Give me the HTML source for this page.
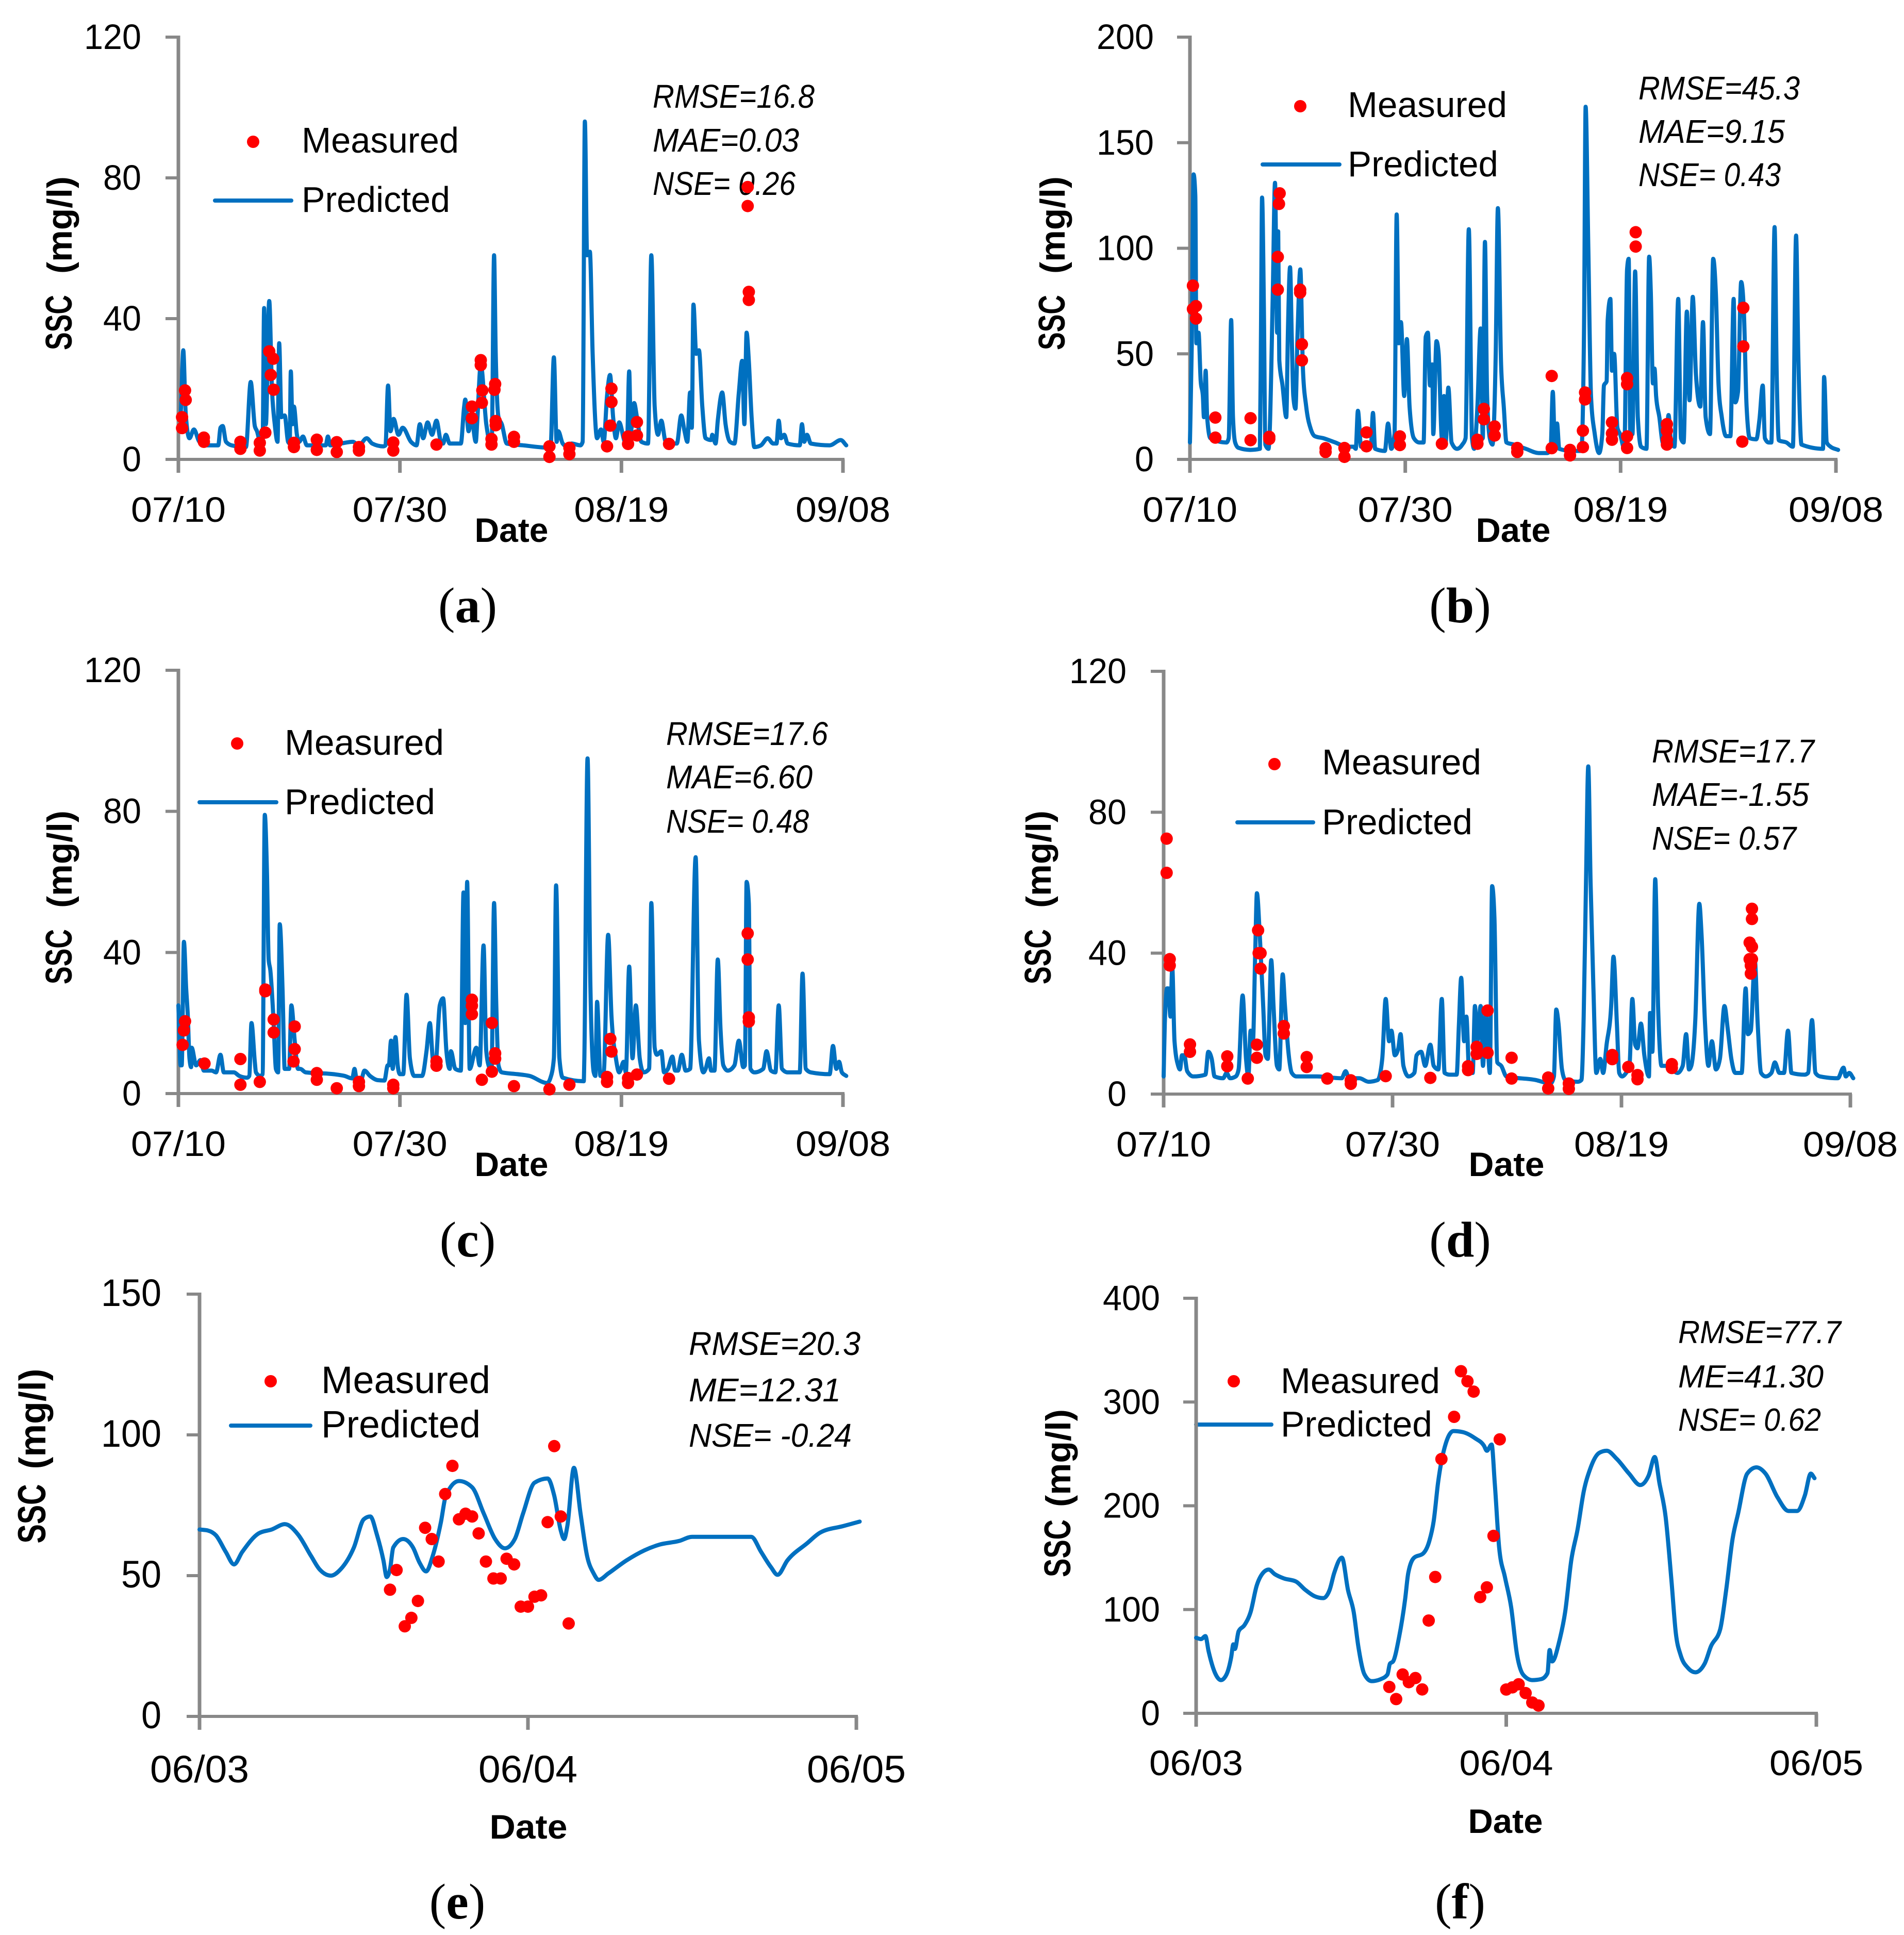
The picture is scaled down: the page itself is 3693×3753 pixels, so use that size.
<!DOCTYPE html>
<html lang="en">
<head>
<meta charset="utf-8">
<title>SSC measured vs predicted</title>
<style>
html,body{margin:0;padding:0;background:#fff}
svg{display:block}
text{font-family:"Liberation Sans",sans-serif;fill:#000}
.leg{font-size:70px}
.legb{font-size:74px}
.st{font-size:64px;font-style:italic}
.stf{font-size:62px;font-style:italic}
.ys{font-size:72px;font-weight:700}
.yu{font-size:68px;font-weight:700}
.ysb{font-size:76px;font-weight:700}
.yub{font-size:72px;font-weight:700}
.dt{font-size:66px;font-weight:700}
.pl{font-family:"Liberation Serif",serif;font-size:98px}
.pl tspan{font-weight:700}
</style>
</head>
<body>
<svg id="figure" xmlns="http://www.w3.org/2000/svg" width="3693" height="3753" viewBox="0 0 3693 3753">
<rect width="3693" height="3753" fill="#fff"/>

<g id="panel-a">
<g>
<text class="ys" transform="translate(139 625.5) rotate(-90)" text-anchor="middle" textLength="107" lengthAdjust="spacingAndGlyphs">SSC</text>
<text class="yu" transform="translate(139 436.5) rotate(-90)" text-anchor="middle" textLength="189" lengthAdjust="spacingAndGlyphs">(mg/l)</text>
</g>
<text class="dt" x="992" y="1051" text-anchor="middle" textLength="143" lengthAdjust="spacingAndGlyphs">Date</text>
<text class="pl" x="907" y="1207" text-anchor="middle">(<tspan>a</tspan>)</text>
<circle cx="491" cy="275" r="12" fill="#f00"/>
<text class="leg" x="585" y="296" textLength="305" lengthAdjust="spacingAndGlyphs">Measured</text>
<line x1="417" x2="565" y1="389" y2="389" stroke="#0070c0" stroke-width="8" stroke-linecap="round"/>
<text class="leg" x="585" y="411" textLength="288" lengthAdjust="spacingAndGlyphs">Predicted</text>
<text class="st" x="1266" y="209" textLength="314" lengthAdjust="spacingAndGlyphs">RMSE=16.8</text>
<text class="st" x="1266" y="294" textLength="284" lengthAdjust="spacingAndGlyphs">MAE=0.03</text>
<text class="st" x="1266" y="378" textLength="277" lengthAdjust="spacingAndGlyphs">NSE= 0.26</text>
</g>

<g id="panel-b">
<g>
<text class="ys" transform="translate(2065 625.5) rotate(-90)" text-anchor="middle" textLength="107" lengthAdjust="spacingAndGlyphs">SSC</text>
<text class="yu" transform="translate(2065 436.5) rotate(-90)" text-anchor="middle" textLength="189" lengthAdjust="spacingAndGlyphs">(mg/l)</text>
</g>
<text class="dt" x="2935" y="1051" text-anchor="middle" textLength="145" lengthAdjust="spacingAndGlyphs">Date</text>
<text class="pl" x="2832" y="1207" text-anchor="middle">(<tspan>b</tspan>)</text>
<circle cx="2522" cy="206" r="12" fill="#f00"/>
<text class="leg" x="2614" y="227" textLength="309" lengthAdjust="spacingAndGlyphs">Measured</text>
<line x1="2449" x2="2598" y1="319" y2="319" stroke="#0070c0" stroke-width="8" stroke-linecap="round"/>
<text class="leg" x="2614" y="342" textLength="292" lengthAdjust="spacingAndGlyphs">Predicted</text>
<text class="st" x="3178" y="193" textLength="313" lengthAdjust="spacingAndGlyphs">RMSE=45.3</text>
<text class="st" x="3178" y="277" textLength="284" lengthAdjust="spacingAndGlyphs">MAE=9.15</text>
<text class="st" x="3178" y="361" textLength="276" lengthAdjust="spacingAndGlyphs">NSE= 0.43</text>
</g>

<g id="panel-c">
<g>
<text class="ys" transform="translate(139 1855.5) rotate(-90)" text-anchor="middle" textLength="107" lengthAdjust="spacingAndGlyphs">SSC</text>
<text class="yu" transform="translate(139 1666.5) rotate(-90)" text-anchor="middle" textLength="189" lengthAdjust="spacingAndGlyphs">(mg/l)</text>
</g>
<text class="dt" x="992" y="2281" text-anchor="middle" textLength="143" lengthAdjust="spacingAndGlyphs">Date</text>
<text class="pl" x="907" y="2437" text-anchor="middle">(<tspan>c</tspan>)</text>
<circle cx="460" cy="1442" r="12" fill="#f00"/>
<text class="leg" x="552" y="1464" textLength="309" lengthAdjust="spacingAndGlyphs">Measured</text>
<line x1="387" x2="536" y1="1556" y2="1556" stroke="#0070c0" stroke-width="8" stroke-linecap="round"/>
<text class="leg" x="552" y="1579" textLength="292" lengthAdjust="spacingAndGlyphs">Predicted</text>
<text class="st" x="1292" y="1445" textLength="314" lengthAdjust="spacingAndGlyphs">RMSE=17.6</text>
<text class="st" x="1292" y="1529" textLength="284" lengthAdjust="spacingAndGlyphs">MAE=6.60</text>
<text class="st" x="1292" y="1615" textLength="277" lengthAdjust="spacingAndGlyphs">NSE= 0.48</text>
</g>

<g id="panel-d">
<g>
<text class="ys" transform="translate(2038 1855.5) rotate(-90)" text-anchor="middle" textLength="107" lengthAdjust="spacingAndGlyphs">SSC</text>
<text class="yu" transform="translate(2038 1666.5) rotate(-90)" text-anchor="middle" textLength="189" lengthAdjust="spacingAndGlyphs">(mg/l)</text>
</g>
<text class="dt" x="2922" y="2281" text-anchor="middle" textLength="147" lengthAdjust="spacingAndGlyphs">Date</text>
<text class="pl" x="2832" y="2437" text-anchor="middle">(<tspan>d</tspan>)</text>
<circle cx="2472" cy="1482" r="12" fill="#f00"/>
<text class="leg" x="2564" y="1502" textLength="309" lengthAdjust="spacingAndGlyphs">Measured</text>
<line x1="2400" x2="2547" y1="1595" y2="1595" stroke="#0070c0" stroke-width="8" stroke-linecap="round"/>
<text class="leg" x="2564" y="1618" textLength="292" lengthAdjust="spacingAndGlyphs">Predicted</text>
<text class="st" x="3204" y="1479" textLength="315" lengthAdjust="spacingAndGlyphs">RMSE=17.7</text>
<text class="st" x="3204" y="1563" textLength="305" lengthAdjust="spacingAndGlyphs">MAE=-1.55</text>
<text class="st" x="3204" y="1648" textLength="280" lengthAdjust="spacingAndGlyphs">NSE= 0.57</text>
</g>

<g id="panel-e">
<g>
<text class="ysb" transform="translate(88 2936) rotate(-90)" text-anchor="middle" textLength="115" lengthAdjust="spacingAndGlyphs">SSC</text>
<text class="yub" transform="translate(88 2752) rotate(-90)" text-anchor="middle" textLength="195" lengthAdjust="spacingAndGlyphs">(mg/l)</text>
</g>
<text class="dt" x="1025" y="3566" text-anchor="middle" textLength="151" lengthAdjust="spacingAndGlyphs">Date</text>
<text class="pl" x="887" y="3721" text-anchor="middle">(<tspan>e</tspan>)</text>
<circle cx="525" cy="2679" r="12" fill="#f00"/>
<text class="legb" x="623" y="2702" textLength="328" lengthAdjust="spacingAndGlyphs">Measured</text>
<line x1="448" x2="602" y1="2765" y2="2765" stroke="#0070c0" stroke-width="8" stroke-linecap="round"/>
<text class="legb" x="623" y="2788" textLength="309" lengthAdjust="spacingAndGlyphs">Predicted</text>
<text class="st" x="1336" y="2628" textLength="333" lengthAdjust="spacingAndGlyphs">RMSE=20.3</text>
<text class="st" x="1336" y="2718" textLength="295" lengthAdjust="spacingAndGlyphs">ME=12.31</text>
<text class="st" x="1336" y="2806" textLength="316" lengthAdjust="spacingAndGlyphs">NSE= -0.24</text>
</g>

<g id="panel-f">
<g>
<text class="ys" transform="translate(2076 3003) rotate(-90)" text-anchor="middle" textLength="112" lengthAdjust="spacingAndGlyphs">SSC</text>
<text class="yu" transform="translate(2076 2828) rotate(-90)" text-anchor="middle" textLength="190" lengthAdjust="spacingAndGlyphs">(mg/l)</text>
</g>
<text class="dt" x="2920" y="3555" text-anchor="middle" textLength="145" lengthAdjust="spacingAndGlyphs">Date</text>
<text class="pl" x="2832" y="3721" text-anchor="middle">(<tspan>f</tspan>)</text>
<circle cx="2393" cy="2679" r="12" fill="#f00"/>
<text class="leg" x="2484" y="2702" textLength="309" lengthAdjust="spacingAndGlyphs">Measured</text>
<line x1="2320" x2="2466" y1="2763" y2="2763" stroke="#0070c0" stroke-width="8" stroke-linecap="round"/>
<text class="leg" x="2484" y="2786" textLength="294" lengthAdjust="spacingAndGlyphs">Predicted</text>
<text class="stf" x="3255" y="2605" textLength="316" lengthAdjust="spacingAndGlyphs">RMSE=77.7</text>
<text class="stf" x="3255" y="2691" textLength="282" lengthAdjust="spacingAndGlyphs">ME=41.30</text>
<text class="stf" x="3255" y="2775" textLength="277" lengthAdjust="spacingAndGlyphs">NSE= 0.62</text>
</g>
</svg>

<script>
// ---- shared tick data ----
const xTickDaysLong = [0,20,40,60];
const xTickLabelsLong = ['07/10','07/30','08/19','09/08'];
const xTickDaysShort = [0,1,2];
const xTickLabelsShort = ['06/03','06/04','06/05'];
const yTicksA = [0,40,80,120];
const yTicksB = [0,50,100,150,200];
const yTicksC = [0,40,80,120];
const yTicksD = [0,40,80,120];
const yTicksE = [0,50,100,150];
const yTicksF = [0,100,200,300,400];

// ---- panel a ----
const predictedDaysA = [0,.2,.44,.66,1,1.4,1.9,2.6,3.6,3.8,4,4.3,4.8,6.1,6.53,6.9,7.1,7.4,7.6,7.74,7.9,8.2,8.45,8.7,8.95,9.1,9.3,9.6,9.9,10.05,10.15,10.3,10.43,10.7,10.9,11.25,11.6,13.3,13.5,13.7,14.65,15.75,16.3,17,17.5,18.5,18.7,18.93,19.15,19.43,19.87,20.25,21,21.5,21.8,22.1,22.5,22.9,23.3,23.7,23.9,24.15,24.5,25.5,25.8,25.9,26.2,26.45,26.85,27,27.3,27.8,28.2,28.3,28.5,28.65,28.9,29.2,29.65,31.1,33.6,33.9,34.15,34.3,34.7,35.2,35.5,36.3,36.5,36.7,36.9,37.15,37.4,37.8,38.15,38.4,38.7,38.97,39.25,39.5,39.8,40.3,40.5,40.7,40.85,41.15,41.4,41.8,42.4,42.7,43,43.3,43.6,44,45,45.4,45.7,45.95,46.2,46.35,46.5,46.75,47,47.3,47.6,48.1,48.2,48.5,48.7,49.1,49.4,49.8,50.2,50.6,50.9,51.1,51.3,51.5,51.75,52,52.6,53.2,53.7,54,54.2,54.4,54.7,55,56.1,56.3,56.5,56.75,57.1,58.8,59.8,60.3];
const predictedValuesA = [12,13,31,13,6,8.5,5,4,4,9,9.5,5,4,3.5,22,9.5,8,4.5,4,43,10,45,20,10,5,33,12,12.5,5,4.5,25,10,15,7,5,6.5,4,4,6.5,4,4.5,5,4,6,4.5,3.7,4,21,8,11.5,7,9,5,4,10,6,10.5,7,11,5,4.5,7,4.5,4.5,15,17,8,12,5,12,27,10,4.5,6,58,30,12,10,4.5,4,3.3,29,5,8,4.5,3.5,4.5,4,5,96,58,59,30,6,8.5,5,18,24,12,6,10.5,5,4.5,25,8,16,12,5,4.5,58,15,7,11,5,4.5,12.5,8,5,19,9,44,30,31,15,6,5.5,7,4.5,11,19,10,5,4.5,19,28,10,36,28,12,3.5,4,6,4.5,4.5,11,6,7,4.5,4,10,5,7,4.5,4,5.5,4];
const measuredDaysA = [.33,.33,.6,.66,2.3,2.3,5.6,5.6,7.35,7.35,7.85,8.2,8.56,8.34,8.6,10.43,10.43,12.5,12.5,14.3,14.3,16.3,16.3,19.4,19.4,23.3,26.5,26.5,27.3,27.3,27.44,27.4,28.27,28.27,28.6,28.54,28.65,28.65,30.3,30.3,33.5,33.5,35.3,35.3,38.7,39.1,39.1,39,40.6,40.6,41.4,41.4,44.3,51.4,51.4,51.5,51.5];
const measuredValuesA = [12,8.9,19.6,16.9,6.2,5,5,3,4.7,2.5,7.6,30.7,28.6,24,19.8,4.7,3.5,5.6,2.7,4.9,2.1,3.5,2.5,4.8,2.5,4.2,15,11.7,28.2,26.8,19.6,16.1,5.8,4.2,21.4,19.8,10.9,9.7,6.4,5,3.7,.7,3.3,1.5,3.7,20.1,16.3,9.6,6.5,4.4,10.6,6.8,4.4,77.4,72,47.6,45.3];

// ---- panel b ----
const predictedDaysB = [0,.17,.34,.5,.6,.8,1,1.2,1.3,1.46,1.6,1.9,3.4,3.6,3.83,4,4.2,4.5,5.6,6.5,6.6,6.7,6.87,7,7.3,7.4,7.7,7.9,8.1,8.2,8.3,8.6,8.95,9.1,9.3,9.45,9.6,9.8,10,10.25,10.5,10.8,11.25,11.6,12.4,13.5,14.6,15.2,15.4,15.6,15.9,16.8,17,17.2,18.1,18.4,18.7,19,19.2,19.4,19.6,19.9,20.15,20.4,20.8,21.3,21.7,21.9,22.1,22.3,22.5,22.6,22.9,23.1,23.4,23.6,23.75,24,24.3,24.8,25.3,25.6,25.9,26.2,26.4,26.7,27,27.2,27.4,27.6,27.85,28.1,28.4,28.6,28.9,29.15,29.4,30.1,31.2,32.4,33.2,33.5,33.7,33.9,34.1,34.3,35.45,36.35,36.6,36.75,37,37.25,37.6,38,38.3,38.45,38.7,38.8,39.05,39.2,39.4,39.7,39.95,40.35,40.6,40.75,40.9,41.1,41.35,41.6,41.9,42.4,42.65,42.8,43,43.15,43.3,43.6,43.9,44.2,44.45,44.7,45,45.35,45.6,45.85,46.15,46.4,46.7,47,47.4,47.65,47.9,48.3,48.6,48.85,49.1,49.4,49.8,50.2,50.5,50.65,50.9,51.2,51.45,51.7,52,52.6,52.9,53.2,53.4,53.75,54,54.3,54.5,54.7,55.4,56,56.3,56.5,56.8,58.8,58.9,59.15,59.5,60.2];
const predictedValuesB = [8,55,135,125,55,60,37,30,20,42,20,10,8,10,66,20,8,5.5,4.5,5,60,124,70,7,5,12,80,131,60,108,47,35,20,60,91,60,30,24,60,90,42,25,14,11,10,8,6,6,5,23,6,6,22,5,4,17,5,12,116,55,65,30,57,25,10,8,8,58,60,35,45,12,56,50,10,30,8,34,8,5,7,10,109,10,5,25,62,10,103,30,10,7,50,119,45,25,8,7,5,3,3,5,32,5,17,5,4,4,60,167,100,30,12,3,12,35,37,66,76,42,50,15,12,5,90,95,12,12,89,20,6,5,96,80,36,43,30,20,8,6,21,8,6,76,10,8,70,28,77,40,25,65,20,12,95,78,35,20,11,11,76,27,32,84,70,25,10,9.5,19,35,10,8,8,110,40,9,8,6,106,50,7,5,39,8,6,4.5];
const measuredDaysB = [.28,.28,.56,.56,2.36,2.36,5.63,5.63,7.37,7.37,8.33,8.27,8.16,8.16,10.24,10.24,10.4,10.4,12.6,12.6,14.35,14.35,16.4,16.4,19.5,19.5,23.4,26.7,26.7,27.3,27.3,28.3,28.3,30.4,30.4,33.6,33.6,35.3,35.3,36.5,36.5,36.7,36.7,39.2,39.2,39.2,40.6,40.6,40.6,40.6,41.4,41.4,44.3,44.3,44.3,44.3,51.4,51.4,51.3];
const measuredValuesB = [82.3,71.2,72.6,66.7,19.8,10.3,19.5,9.1,10.7,9.7,126,121,95.9,80.4,80.4,79,54.5,46.9,5.3,3.5,5.4,1.2,12.8,6.2,10.9,6.8,7.4,9.3,7.4,23.9,19,15.6,11.3,5.4,3.5,39.5,5.3,4.5,1.9,13.6,5.8,31.7,28.4,17.5,12.3,9.3,38.5,35.6,10.9,5.4,107.6,100.8,16.7,13.6,9.3,7,71.8,53.5,8.4];

// ---- panel c ----
const predictedDaysC = [0,.2,.3,.5,.7,.85,1,1.15,1.2,1.6,2,2.3,3,3.4,3.8,4.1,5,5.5,6.2,6.4,6.6,6.9,7,7.4,7.6,7.8,8,8.15,8.3,8.6,8.8,9,9.15,9.4,9.6,10,10.2,10.5,10.8,11,11.5,14,15,15.7,15.9,16.1,16.5,16.8,17.3,18,18.6,18.9,19,19.2,19.35,19.6,19.8,20,20.3,20.6,20.9,21.3,22,22.4,22.7,23,23.2,23.6,23.9,24.2,24.5,24.6,25,25.5,25.74,25.9,26.07,26.3,26.9,27.2,27.55,27.8,28.1,28.27,28.5,28.7,28.9,29.2,30.6,31.7,33.3,33.6,33.9,34.1,34.4,34.7,36.6,36.65,36.94,37.2,37.5,37.65,37.8,38.1,38.4,38.8,39.1,39.5,39.8,40.2,40.4,40.7,41,41.3,41.65,42,42.5,42.7,43,43.2,43.6,43.85,44.2,44.6,44.85,45.1,45.45,45.8,46.2,46.7,47,47.4,47.6,47.9,48.1,48.4,48.7,48.95,49.2,49.6,50.2,50.6,51,51.15,51.3,51.5,51.65,52,52.8,53.1,53.5,53.9,54.2,54.5,55,56.1,56.35,56.65,57.1,58.8,59.1,59.4,59.65,59.9,60.3];
const predictedValuesC = [25,8,8,43,30,22,10,7.5,13,8,9.5,6.5,6.5,6,11,6,6,5,4.5,5,20,9,6,5,5.5,79,62,38,35,20,7,6,48,30,7,7,25,15,7,7,6,5.5,5,4.3,7,4,4,6.5,5,3.8,3.7,8,8,15,7,16,8,5.5,5.5,28,10,5,5,12,20,9,8,25,27,12,7,12,7,6.5,57,20,60,7,13,8,42,12,7,6,54,25,8,6,5.5,5,3,4.5,10,59,10,4.5,3.5,10,95,30,6,5,26,5,6,45,22,10,6,9,6,36,10,25,10,6,7,54,13,11,12,6,7,10.5,6.5,6.5,11,6.5,7,67,15,6,7,10,6.5,6.5,38,18,8,6.5,8,15,7.5,8,60,54,7,6,7,12,6.5,6,25,7,6,6,34,7,6,5.5,13.5,7,9,6,5];
const measuredDaysC = [.38,.5,.6,2.36,5.6,5.6,7.35,7.85,7.85,8.6,8.6,10.5,10.5,10.4,12.5,12.5,14.3,16.3,16.3,19.4,19.4,23.3,23.3,26.5,26.5,26.5,28.3,27.4,28.3,28.6,28.6,30.3,33.5,35.3,38.7,38.7,39,39.1,40.6,40.6,41.4,44.3,51.4,51.4,51.5,51.5];
const measuredValuesC = [13.8,17.9,20.5,8.5,9.8,2.5,3.3,29.5,29,21,17.3,19,12.6,9.1,5.8,3.9,1.5,3.3,2.1,2.5,1.5,9.1,7.9,26.6,24.9,22.5,20,3.9,6.2,11.4,9.9,2.1,1.2,2.5,4.7,3.3,15.5,11.9,4.4,3,5.4,4.2,45.4,38,21.6,20.4];

// ---- panel d ----
const predictedDaysD = [0,.1,.3,.4,.6,.75,.95,1.27,1.43,1.6,1.8,2.06,2.6,3.65,3.9,4.2,4.45,5.2,5.5,5.8,6.3,6.55,6.9,7.2,7.4,7.6,7.8,8,8.15,8.4,8.7,8.9,9.1,9.4,9.6,9.9,10.1,10.4,10.6,10.9,11.2,11.6,13.4,15.55,15.9,16.2,17.1,17.9,18.7,19.1,19.4,19.7,19.9,20.2,20.5,20.7,20.95,21.4,21.9,22.1,22.5,22.85,23.3,23.6,24,24.3,24.55,25,25.6,25.8,26,26.25,26.45,26.7,27,27.2,27.4,27.7,27.9,28.15,28.5,28.7,28.9,29.15,29.5,29.95,32.5,33.8,34.1,34.3,34.5,34.8,35.1,36.2,36.5,36.7,36.9,37.1,37.3,37.55,37.8,38.15,38.4,38.7,39.1,39.3,39.6,39.8,40.05,40.4,40.7,40.95,41.2,41.4,41.7,42,42.4,42.5,42.7,42.95,43.2,43.5,44,44.9,45.35,45.65,45.9,46.1,46.45,46.8,47,47.3,47.6,47.9,48.25,48.6,49,49.3,49.6,49.95,50.5,50.85,51.05,51.3,51.65,51.9,52.2,52.6,53.1,53.4,53.8,54.2,54.55,54.85,56,56.3,56.65,56.95,57.35,58.9,59.4,59.6,59.9,60.25];
const predictedValuesD = [5,20,30,30,22,36,15,8,7,11,11,6.5,5,5.5,12,10,5,4.5,6,4.5,5,7,28,10,5,18,15,40,57,45,25,11,10,38,25,8,7,34,25,12,6,5,5,4.5,6.5,4.5,4.5,3.5,4,10,27,15,18,11,13,17,8,5,6,11,12,8,14,8,7,27,6,5.5,5.5,20,33,15,22,6,6,25,15,25,8,23,6,59,50,9,8,5,4,3,5,24,20,7,4,3.5,4,22,60,93,60,30,6,10,6,14,25,39,20,6,5,6,8,27,14,13,20,11,5,23,12,61,25,8,8,6,8,17,7,8,21,54,45,20,8,15,7,10,25,18,10,6,6,30,17,18,38,20,6,5,6,9,6,6,18,6,5.5,6,21,6,5,4.5,7.5,5,6,4.5];
const measuredDaysD = [.26,.26,.53,.53,2.3,2.3,5.56,5.56,7.35,8.15,8.15,8.25,8.3,8.47,8.47,10.5,10.5,12.5,12.5,14.3,16.35,16.35,19.4,23.3,26.6,26.6,27.35,27.35,28.3,28.3,30.4,30.4,33.6,33.6,35.4,35.4,39.2,39.2,40.6,41.4,41.4,44.4,44.4,51.4,51.4,51.2,51.4,51.2,51.4,51.3,51.3];
const measuredValuesD = [72.5,62.8,38.3,36.5,14.1,12,10.7,7.9,4.4,14,10.3,46.5,40,40,35.6,19.3,17.2,10.5,7.7,4.4,3.9,2.9,5.1,4.6,7.9,6.8,13.4,11.4,23.7,11.7,10.3,4.4,4.7,1.6,3,1.5,11.1,9.9,7.7,5.4,4.2,8.5,7.4,52.6,49.7,43,41.8,38.3,38.3,36.5,34.2];

// ---- panel e ----
const predictedDaysE = [0,.026,.05,.08,.105,.13,.18,.22,.26,.3,.34,.365,.4,.43,.47,.5,.52,.54,.56,.57,.58,.59,.62,.65,.67,.69,.71,.735,.75,.79,.83,.865,.9,.93,.96,.985,1.02,1.06,1.08,1.1,1.11,1.12,1.14,1.16,1.18,1.2,1.215,1.245,1.3,1.355,1.4,1.46,1.5,1.58,1.68,1.71,1.74,1.76,1.79,1.85,1.89,1.96,2.01];
const predictedValuesE = [66.4,66,64.3,58.4,54,58.4,65,66.4,68.3,64.6,56.9,52.3,50,52.3,60,70,71,64.6,55.4,49.5,52.3,60,63,60,54.6,51.5,57,69,78.4,83.6,81.4,72.2,63,59.7,63,72,83,84.5,78.4,66,63,67.6,88.3,72.2,57,50.8,48.5,50.8,55.4,59,61,62.3,63.8,63.8,63.8,58.4,53,50.3,55.4,61.5,65.3,67.6,69.2];
const measuredDaysE = [.58,.6,.625,.645,.665,.687,.707,.728,.748,.77,.79,.81,.83,.85,.872,.895,.917,.935,.958,.978,1,1.02,1.04,1.06,1.08,1.1,1.124];
const measuredValuesE = [45,52,32,35,41,67,63,55,79,89,70,72,71,65,55,49,49,56,54,39,39,42.5,43,69,96,71,33];

// ---- panel f ----
const predictedDaysF = [0,.016,.03,.04,.06,.08,.098,.113,.12,.125,.137,.156,.176,.195,.215,.234,.254,.283,.322,.352,.381,.41,.43,.445,.47,.49,.508,.523,.543,.566,.596,.617,.625,.635,.654,.674,.684,.703,.732,.752,.766,.78,.805,.83,.86,.9,.928,.9375,.953,.963,.977,.996,1.016,1.035,1.055,1.084,1.113,1.133,1.14,1.148,1.172,1.19,1.21,1.23,1.25,1.27,1.3,1.324,1.357,1.396,1.432,1.459,1.479,1.494,1.514,1.533,1.547,1.5625,1.586,1.61,1.64,1.66,1.69,1.709,1.73,1.748,1.777,1.807,1.836,1.875,1.91,1.938,1.963,1.982,1.994];
const predictedValuesF = [72.8,71.5,74.4,60,39.5,32,37.4,54,66.5,62,79,85,98,122.7,135,138.5,134,130,127,119,113,111,118.5,135,150,118.5,97.7,64.5,37.4,31,33,37.4,47.8,50,72.8,110,135,150,154,166,185,222,260,272,271,265,258,253,259,222,160,131,102,56,37,32,33,38.7,61,50,70.7,97.7,148,177,214,235,251,253,245,231,220,229,247,222,189,127,77,56,43.7,39.5,48,64.5,81,118.5,168.4,193,231,237,231,208,195,195,210,231,226.6];
const measuredDaysF = [.623,.645,.666,.686,.707,.729,.75,.771,.791,.832,.854,.875,.895,.916,.9375,.959,.979,1,1.02,1.04,1.0625,1.084,1.104];
const measuredValuesF = [25.4,13.7,37.4,30,34,23,89.4,131.4,245,285.7,329.7,320,310,112,121.4,171,264,22.9,25,28,19.5,10.4,7.5];

const NS = 'http://www.w3.org/2000/svg';
const AXIS = '#888888', BLUE = '#0070c0', RED = '#ff0000';

function axisLine(parent, x1, y1, x2, y2, w, name) {
  const el = document.createElementNS(NS, 'line');
  el.setAttribute('x1', x1); el.setAttribute('y1', y1);
  el.setAttribute('x2', x2); el.setAttribute('y2', y2);
  el.setAttribute('stroke', AXIS); el.setAttribute('stroke-width', w);
  
  
  parent.appendChild(el);
}
function tickText(parent, x, y, str, size, len, anchor, name) {
  const el = document.createElementNS(NS, 'text');
  el.setAttribute('x', x); el.setAttribute('y', y);
  el.setAttribute('font-size', size);
  el.setAttribute('text-anchor', anchor);
  el.setAttribute('textLength', len);
  el.setAttribute('lengthAdjust', 'spacingAndGlyphs');
  el.textContent = str;
  
  
  parent.appendChild(el);
}
// monotone cubic path through the points (same shape as a smoothed spreadsheet line, no overshoot)
function smoothPath(xs, ys) {
  const n = xs.length, m = new Array(n).fill(0), s = [], h = [];
  for (let i = 0; i < n - 1; i++) {
    h[i] = Math.max(xs[i + 1] - xs[i], 1e-6);
    s[i] = (ys[i + 1] - ys[i]) / h[i];
  }
  m[0] = s[0]; m[n - 1] = s[n - 2];
  for (let i = 1; i < n - 1; i++) {
    const a = s[i - 1], b = s[i];
    if (a * b <= 0) { m[i] = 0; continue; }
    const p = (a * h[i] + b * h[i - 1]) / (h[i - 1] + h[i]);
    m[i] = (Math.sign(a) + Math.sign(b)) * Math.min(Math.abs(a), Math.abs(b), 0.5 * Math.abs(p));
  }
  let d = 'M' + xs[0].toFixed(1) + ' ' + ys[0].toFixed(1);
  for (let i = 0; i < n - 1; i++) {
    const t = h[i] / 3;
    d += 'C' + (xs[i] + t).toFixed(1) + ' ' + (ys[i] + m[i] * t).toFixed(1) + ' ' +
      (xs[i + 1] - t).toFixed(1) + ' ' + (ys[i + 1] - m[i + 1] * t).toFixed(1) + ' ' +
      xs[i + 1].toFixed(1) + ' ' + ys[i + 1].toFixed(1);
  }
  return d;
}
function drawPanel(id, g, series) {
  const parent = document.getElementById(id);
  const sx = d => g.x0 + d / g.xMax * (g.x1 - g.x0);
  const sy = v => g.y0 - v / g.yMax * (g.y0 - g.top);
  // axes
  axisLine(parent, g.x0, g.top - 3, g.x0, g.y0 + 26, 7, 'y-axis-line');
  axisLine(parent, g.x0 - 25, g.y0, g.x1 + 3, g.y0, 6, 'x-axis-line');
  series.yTicks.forEach(v => {
    axisLine(parent, g.x0 - 25, sy(v), g.x0, sy(v), 6, 'y-tick');
    const label = String(v);
    tickText(parent, g.x0 - g.yLabelGap, sy(v) + 23, label, g.font, label.length * g.digitW, 'end', 'y-tick-label');
  });
  series.xDays.forEach((d, i) => {
    axisLine(parent, sx(d), g.y0, sx(d), g.y0 + 26, 7, 'x-tick');
    tickText(parent, sx(d), g.y0 + g.xLabelGap, series.xLabels[i], g.font, g.xLabelW, 'middle', 'x-tick-label');
  });
  // predicted line
  const n = Math.min(series.predDays.length, series.predValues.length);
  const px = [], py = [];
  for (let i = 0; i < n; i++) {
    px.push(sx(series.predDays[i]));
    py.push(sy(series.predValues[i]));
  }
  const line = document.createElementNS(NS, 'path');
  line.setAttribute('d', smoothPath(px, py));
  line.setAttribute('fill', 'none');
  line.setAttribute('stroke', BLUE);
  line.setAttribute('stroke-width', '8');
  line.setAttribute('stroke-linejoin', 'round');
  line.setAttribute('stroke-linecap', 'round');
  
  
  parent.appendChild(line);
  // measured points
  const m = Math.min(series.measDays.length, series.measValues.length);
  for (let i = 0; i < m; i++) {
    const c = document.createElementNS(NS, 'circle');
    c.setAttribute('cx', sx(series.measDays[i]).toFixed(1));
    c.setAttribute('cy', sy(series.measValues[i]).toFixed(1));
    c.setAttribute('r', '12');
    c.setAttribute('fill', RED);
    
    
    parent.appendChild(c);
  }
}

drawPanel('panel-a', {x0:346,x1:1635,top:72,y0:891,xMax:60,yMax:120,font:69,digitW:37,xLabelW:184,xLabelGap:121,yLabelGap:72},
  {yTicks:yTicksA,xDays:xTickDaysLong,xLabels:xTickLabelsLong,predDays:predictedDaysA,predValues:predictedValuesA,measDays:measuredDaysA,measValues:measuredValuesA});
drawPanel('panel-b', {x0:2308,x1:3561,top:72,y0:891,xMax:60,yMax:200,font:69,digitW:37,xLabelW:184,xLabelGap:121,yLabelGap:70},
  {yTicks:yTicksB,xDays:xTickDaysLong,xLabels:xTickLabelsLong,predDays:predictedDaysB,predValues:predictedValuesB,measDays:measuredDaysB,measValues:measuredValuesB});
drawPanel('panel-c', {x0:346,x1:1635,top:1300,y0:2121,xMax:60,yMax:120,font:69,digitW:37,xLabelW:184,xLabelGap:121,yLabelGap:72},
  {yTicks:yTicksC,xDays:xTickDaysLong,xLabels:xTickLabelsLong,predDays:predictedDaysC,predValues:predictedValuesC,measDays:measuredDaysC,measValues:measuredValuesC});
drawPanel('panel-d', {x0:2257,x1:3589,top:1302,y0:2122,xMax:60,yMax:120,font:69,digitW:37,xLabelW:184,xLabelGap:121,yLabelGap:72},
  {yTicks:yTicksD,xDays:xTickDaysLong,xLabels:xTickLabelsLong,predDays:predictedDaysD,predValues:predictedValuesD,measDays:measuredDaysD,measValues:measuredValuesD});
drawPanel('panel-e', {x0:387,x1:1661,top:2510,y0:3329,xMax:2,yMax:150,font:74,digitW:39,xLabelW:192,xLabelGap:128,yLabelGap:74},
  {yTicks:yTicksE,xDays:xTickDaysShort,xLabels:xTickLabelsShort,predDays:predictedDaysE,predValues:predictedValuesE,measDays:measuredDaysE,measValues:measuredValuesE});
drawPanel('panel-f', {x0:2320,x1:3523,top:2518,y0:3323,xMax:2,yMax:400,font:69,digitW:37,xLabelW:182,xLabelGap:120,yLabelGap:70},
  {yTicks:yTicksF,xDays:xTickDaysShort,xLabels:xTickLabelsShort,predDays:predictedDaysF,predValues:predictedValuesF,measDays:measuredDaysF,measValues:measuredValuesF});
</script>
</body>
</html>
